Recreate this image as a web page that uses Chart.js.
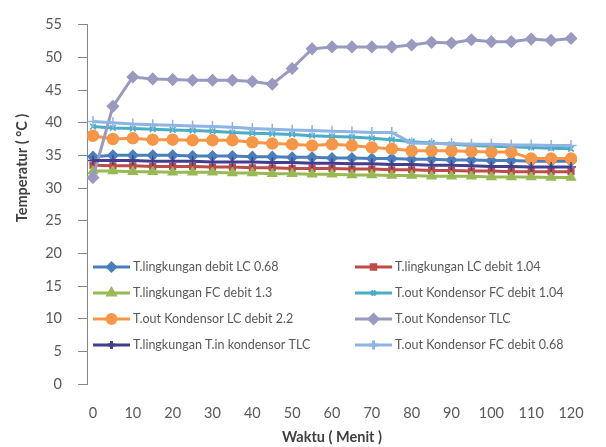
<!DOCTYPE html>
<html>
<head>
<meta charset="utf-8">
<script src="https://cdn.jsdelivr.net/npm/chart.js@4/dist/chart.umd.min.js"></script>
<style>
  html, body { margin: 0; padding: 0; background: #fff; }
  #wrap { width: 606px; height: 447px; }
</style>
</head>
<body>
<div id="wrap"><canvas id="grafik" width="606" height="447"></canvas></div>
<script>
// ── Data ──────────────────────────────────────────────────────────
const menit = [0, 5, 10, 15, 20, 25, 30, 35, 40, 45, 50, 55, 60, 65, 70, 75, 80, 85, 90, 95, 100, 105, 110, 115, 120];
const labelX = [0, 10, 20, 30, 40, 50, 60, 70, 80, 90, 100, 110, 120];

const tLingkLC068   = [34.8, 35.0, 35.0, 35.0, 35.0, 34.9, 34.9, 34.9, 34.8, 34.8, 34.7, 34.7, 34.6, 34.6, 34.5, 34.5, 34.4, 34.4, 34.3, 34.3, 34.2, 34.2, 34.1, 34.1, 34.1];
const tLingkLC104   = [33.5, 33.4, 33.4, 33.3, 33.3, 33.3, 33.2, 33.2, 33.1, 33.1, 33.0, 33.0, 33.0, 32.9, 32.9, 32.8, 32.8, 32.7, 32.7, 32.6, 32.6, 32.5, 32.5, 32.5, 32.5];
const tLingkFC13    = [32.6, 32.6, 32.5, 32.5, 32.4, 32.4, 32.4, 32.3, 32.3, 32.2, 32.2, 32.1, 32.1, 32.0, 32.0, 31.9, 31.9, 31.8, 31.8, 31.8, 31.7, 31.7, 31.7, 31.6, 31.6];
const tOutFC104     = [39.4, 39.2, 39.1, 39.0, 38.9, 38.8, 38.7, 38.5, 38.4, 38.3, 38.2, 38.0, 37.9, 37.8, 37.6, 37.4, 37.1, 36.9, 36.7, 36.5, 36.4, 36.3, 36.2, 36.1, 36.0];
const tOutLC22      = [38.0, 37.5, 37.6, 37.4, 37.4, 37.3, 37.3, 37.3, 37.0, 36.8, 36.7, 36.5, 36.7, 36.5, 36.2, 36.0, 35.7, 35.7, 35.7, 35.6, 35.5, 35.5, 34.5, 34.5, 34.5];
const tOutTLC       = [31.6, 42.5, 47.0, 46.7, 46.6, 46.5, 46.5, 46.5, 46.3, 45.9, 48.3, 51.3, 51.6, 51.6, 51.6, 51.6, 51.9, 52.3, 52.2, 52.7, 52.4, 52.4, 52.8, 52.6, 52.9];
const tLingkInTLC   = [34.2, 34.2, 34.2, 34.1, 34.1, 34.1, 34.0, 34.0, 34.0, 33.9, 33.9, 33.8, 33.8, 33.7, 33.7, 33.6, 33.6, 33.5, 33.5, 33.4, 33.3, 33.3, 33.2, 33.2, 33.2];
const tOutFC068     = [40.2, 40.0, 39.8, 39.7, 39.6, 39.5, 39.4, 39.3, 39.1, 39.0, 38.9, 38.8, 38.7, 38.6, 38.5, 38.5, 36.9, 36.8, 36.8, 36.7, 36.7, 36.6, 36.6, 36.5, 36.5];

const seri = [
  { label: 'T.lingkungan debit LC 0.68',      data: tLingkLC068, color: '#4A7EBB', pt: 'rectRot',  r: 5 },
  { label: 'T.lingkungan LC debit 1.04',      data: tLingkLC104, color: '#BE4B48', pt: 'rect',     r: 4 },
  { label: 'T.lingkungan FC debit 1.3',       data: tLingkFC13,  color: '#98B954', pt: 'triangle', r: 5 },
  { label: 'T.out Kondensor FC debit 1.04',   data: tOutFC104,   color: '#4BACC6', pt: 'crossRot', r: 4 },
  { label: 'T.out Kondensor LC debit 2.2',    data: tOutLC22,    color: '#F79646', pt: 'circle',   r: 5.5 },
  { label: 'T.out Kondensor TLC',             data: tOutTLC,     color: '#9A9AC0', pt: 'rectRot',  r: 5.5 },
  { label: 'T.lingkungan T.in kondensor TLC', data: tLingkInTLC, color: '#433E8E', pt: 'cross',    r: 5 },
  { label: 'T.out Kondensor FC debit 0.68',   data: tOutFC068,   color: '#8EB4E3', pt: 'cross',    r: 5.5 }
];

const FONT = "Lato, 'Open Sans', sans-serif";
const TEXT = '#595959';

// Legenda 2 kolom di dalam area plot, seperti gaya Excel
const legendaExcel = {
  id: 'legendaExcel',
  afterDraw(chart) {
    const ctx = chart.ctx;
    const colX = [93, 355];
    const rowY = [267, 293, 319, 345];
    ctx.save();
    ctx.font = '12.5px ' + FONT;
    ctx.textBaseline = 'middle';
    chart.data.datasets.forEach((ds, i) => {
      const x = colX[i % 2];
      const y = rowY[Math.floor(i / 2)];
      ctx.strokeStyle = ds.borderColor;
      ctx.lineWidth = 3;
      ctx.beginPath();
      ctx.moveTo(x, y);
      ctx.lineTo(x + 37, y);
      ctx.stroke();
      ctx.fillStyle = ds.backgroundColor;
      Chart.helpers.drawPoint(ctx, {
        pointStyle: ds.pointStyle, radius: ds.pointRadius * 0.8, rotation: 0, borderWidth: 1.5
      }, x + 18.5, y);
      ctx.fillStyle = TEXT;
      ctx.fillText(ds.label, x + 40, y);
    });
    // Judul sumbu Y
    ctx.translate(22, 168);
    ctx.rotate(-Math.PI / 2);
    ctx.font = 'bold 14.5px ' + FONT;
    ctx.fillStyle = '#404040';
    ctx.textAlign = 'center';
    ctx.fillText('Temperatur ( °C )', 0, 0);
    ctx.restore();
  }
};

new Chart(document.getElementById('grafik'), {
  type: 'line',
  data: {
    datasets: seri.map((s, i) => ({
      label: s.label,
      data: menit.map((m, k) => ({ x: m, y: s.data[k] })),
      borderColor: s.color,
      backgroundColor: s.color,
      borderWidth: 3,
      pointStyle: s.pt,
      pointRadius: s.r,
      pointBorderWidth: 1.5,
      pointBorderColor: s.color,
      pointBackgroundColor: s.color,
      tension: 0,
      order: -i
    }))
  },
  options: {
    responsive: false,
    animation: false,
    layout: { padding: { left: 0, top: 19, right: 29, bottom: 0 } },
    plugins: {
      legend: { display: false },
      tooltip: { enabled: false }
    },
    scales: {
      x: {
        type: 'linear',
        min: -1.5,
        max: 121.5,
        afterBuildTicks: (scale) => { scale.ticks = labelX.map(v => ({ value: v })); },
        afterFit: (scale) => { scale.height = 63; },
        grid: { display: false },
        border: { display: false },
        ticks: {
          padding: 13,
          maxRotation: 0,
          autoSkip: false,
          color: TEXT,
          font: { family: FONT, size: 14.5 }
        },
        title: {
          display: true,
          text: 'Waktu ( Menit )',
          color: '#404040',
          font: { family: FONT, size: 14.5, weight: 'bold' },
          padding: { top: 0, bottom: 1 }
        }
      },
      y: {
        min: 0,
        max: 55,
        afterFit: (scale) => { scale.width = 87; },
        grid: { drawOnChartArea: false, tickLength: 9, color: '#868686' },
        border: { color: '#868686', width: 1 },
        ticks: {
          stepSize: 5,
          padding: 16,
          color: TEXT,
          font: { family: FONT, size: 14.5 }
        }
      }
    }
  },
  plugins: [legendaExcel]
});
</script>
</body>
</html>
